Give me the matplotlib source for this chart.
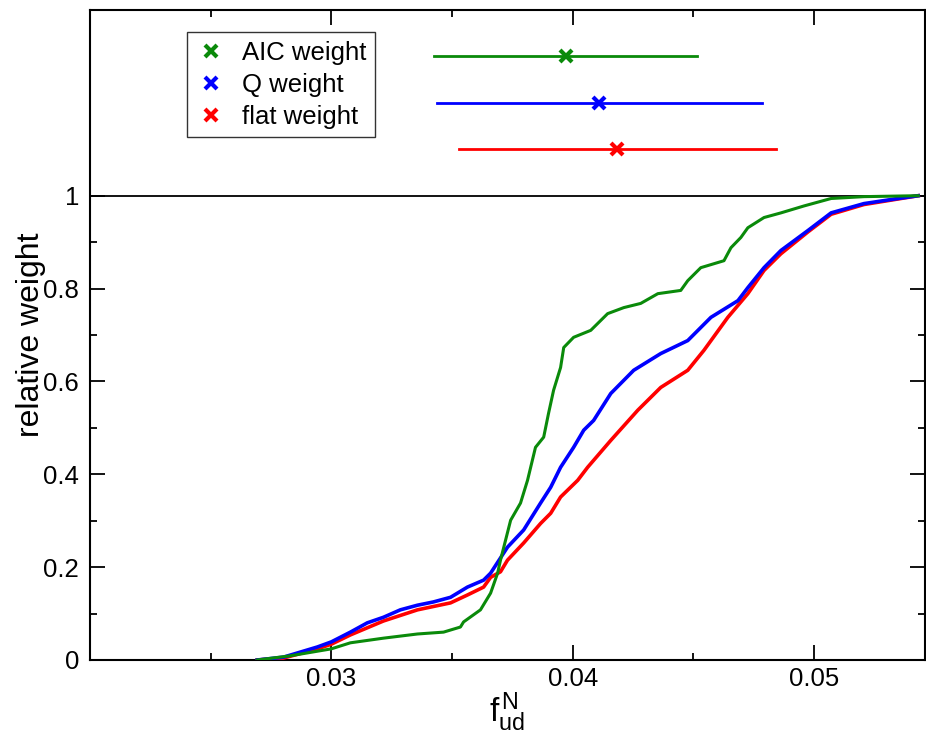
import numpy as np
import matplotlib
matplotlib.use('Agg')
import matplotlib.pyplot as plt
from matplotlib.ticker import FixedLocator

plt.rcParams['font.family'] = ['Liberation Sans', 'DejaVu Sans']
plt.rcParams['mathtext.fontset'] = 'custom'
plt.rcParams['mathtext.rm'] = 'Liberation Sans'
plt.rcParams['mathtext.it'] = 'Liberation Sans'

# cumulative weight curves
x_aic = [0.02693, 0.02830, 0.03000, 0.03079, 0.03216, 0.03357, 0.03465, 0.03535,
         0.03548, 0.03618, 0.03660, 0.03689, 0.03701, 0.03743, 0.03784, 0.03813,
         0.03846, 0.03880, 0.03900, 0.03921, 0.03950, 0.03963, 0.04004, 0.04075,
         0.04145, 0.04212, 0.04282, 0.04353, 0.04448, 0.04477, 0.04531, 0.04627,
         0.04656, 0.04697, 0.04726, 0.04793, 0.04863, 0.04959, 0.05071, 0.05207,
         0.05432]
y_aic = [0.0, 0.009, 0.024, 0.037, 0.047, 0.056, 0.060, 0.071,
         0.082, 0.108, 0.144, 0.187, 0.215, 0.301, 0.338, 0.387,
         0.458, 0.480, 0.531, 0.581, 0.630, 0.673, 0.695, 0.710,
         0.746, 0.759, 0.768, 0.789, 0.796, 0.817, 0.845, 0.860,
         0.888, 0.910, 0.931, 0.953, 0.963, 0.978, 0.994, 0.998,
         1.0]

x_q = [0.02693, 0.02801, 0.02942, 0.03000, 0.03079, 0.03149, 0.03216, 0.03286,
       0.03357, 0.03423, 0.03494, 0.03564, 0.03631, 0.03660, 0.03730, 0.03797,
       0.03867, 0.03909, 0.03950, 0.04004, 0.04046, 0.04087, 0.04158, 0.04253,
       0.04365, 0.04477, 0.04573, 0.04685, 0.04726, 0.04793, 0.04863, 0.04975,
       0.05071, 0.05207, 0.05349, 0.05432]
y_q = [0.0, 0.006, 0.028, 0.039, 0.060, 0.080, 0.092, 0.108,
       0.118, 0.125, 0.135, 0.157, 0.172, 0.187, 0.243, 0.280,
       0.338, 0.372, 0.415, 0.458, 0.495, 0.516, 0.574, 0.624,
       0.660, 0.688, 0.738, 0.774, 0.802, 0.845, 0.882, 0.925,
       0.963, 0.983, 0.994, 1.0]

x_flat = [0.02693, 0.02801, 0.02942, 0.03000, 0.03079, 0.03216, 0.03357, 0.03494,
          0.03564, 0.03631, 0.03660, 0.03701, 0.03730, 0.03797, 0.03867, 0.03909,
          0.03950, 0.04021, 0.04062, 0.04158, 0.04270, 0.04365, 0.04477, 0.04544,
          0.04643, 0.04726, 0.04793, 0.04863, 0.04975, 0.05071, 0.05207, 0.05349,
          0.05432]
y_flat = [0.0, 0.004, 0.024, 0.034, 0.054, 0.084, 0.108, 0.123,
          0.140, 0.157, 0.178, 0.190, 0.215, 0.252, 0.294, 0.316,
          0.351, 0.387, 0.415, 0.473, 0.538, 0.587, 0.624, 0.667,
          0.738, 0.789, 0.839, 0.875, 0.922, 0.960, 0.981, 0.993,
          1.0]

# central values with ranges (top panel)
labels = ['AIC weight', 'Q weight', 'flat weight']
centers = [0.03974, 0.04111, 0.04185]
lows = [0.03427, 0.03438, 0.03528]
highs = [0.04517, 0.04783, 0.04842]
rows = [1.3, 1.2, 1.1]
colors = ['#0a8a0a', '#0000ff', '#ff0000']

fig = plt.figure(figsize=(9.26, 7.46), dpi=100)
ax = fig.add_axes([0.0972, 0.1153, 0.9017, 0.8713])

ax.plot(x_flat, y_flat, color=colors[2], lw=2.6, zorder=3)
ax.plot(x_q, y_q, color=colors[1], lw=2.6, zorder=4)
ax.plot(x_aic, y_aic, color=colors[0], lw=2.2, zorder=5)

ax.axhline(1.0, color='black', lw=1.3, zorder=2)

for lab, c, lo, hi, r, col in zip(labels, centers, lows, highs, rows, colors):
    ax.plot([lo, hi], [r, r], color=col, lw=2.0)
    ax.plot([c], [r], 'x', color=col, ms=9, mew=3, label=lab)

ax.set_xlim(0.02, 0.0546)
ax.set_ylim(0, 1.4)

ax.xaxis.set_major_locator(FixedLocator([0.03, 0.04, 0.05]))
ax.xaxis.set_minor_locator(FixedLocator([0.025, 0.035, 0.045]))
ax.yaxis.set_major_locator(FixedLocator([0, 0.2, 0.4, 0.6, 0.8, 1.0]))
ax.yaxis.set_minor_locator(FixedLocator([0.1, 0.3, 0.5, 0.7, 0.9]))
ax.set_xticklabels(['0.03', '0.04', '0.05'])
ax.set_yticklabels(['0', '0.2', '0.4', '0.6', '0.8', '1'])

ax.tick_params(which='both', direction='in', top=True, right=True,
               labelsize=18.5, width=1.3)
ax.tick_params(axis='x', pad=5)
ax.tick_params(axis='y', pad=8)
ax.tick_params(which='major', length=11)
ax.tick_params(which='minor', length=5)
for s in ax.spines.values():
    s.set_linewidth(1.5)

ax.set_xlabel(r'$\mathregular{f^{\,N}_{ud}}$', fontsize=24, labelpad=0)
ax.set_ylabel('relative weight', fontsize=23, labelpad=-2)

leg = ax.legend(loc='upper left', bbox_to_anchor=(0.116, 0.966), fontsize=18.5,
                frameon=True, fancybox=False, handlelength=1.2, handletextpad=0.6,
                borderpad=0.35, labelspacing=0.3, borderaxespad=0)
leg.get_frame().set_edgecolor('black')
leg.get_frame().set_linewidth(1.0)

plt.savefig('out.png', dpi=100)
